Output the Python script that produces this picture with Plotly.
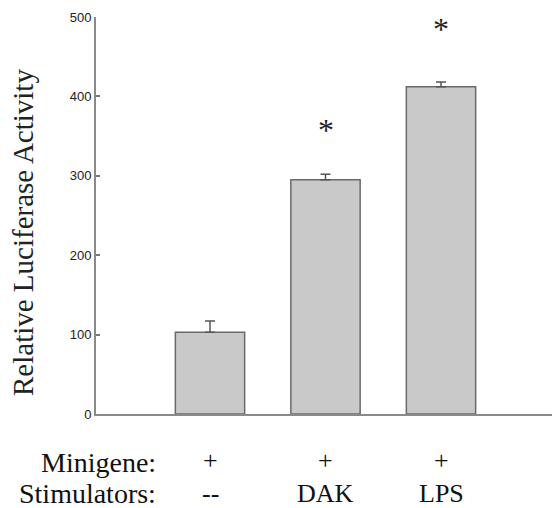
import plotly.graph_objects as go

# Data
positions = [0, 1, 2]
values = [103, 295, 412]
errors = [14, 7, 6]
minigene = ["+", "+", "+"]
stimulators = ["--", "DAK", "LPS"]
sig_marks = ["", "*", "*"]
sig_y = [None, 365, 492]
y_ticks = [0, 100, 200, 300, 400, 500]

SERIF = "Liberation Serif, Times New Roman, serif"

fig = go.Figure()
fig.add_trace(go.Bar(
    x=positions, y=values, width=0.6,
    marker=dict(color="#c9c9c9", line=dict(color="#6a6a6a", width=1.5)),
    error_y=dict(type="data", array=errors, arrayminus=[0] * len(errors),
                 symmetric=False, color="#555555", thickness=1.5, width=5),
    showlegend=False,
    hoverinfo="skip",
))

annotations = []
for xi, s, sy in zip(positions, sig_marks, sig_y):
    if s and sy is not None:
        annotations.append(dict(x=xi, y=sy, xref="x", yref="y", text=s, showarrow=False,
                                font=dict(family=SERIF, size=32, color="#222"),
                                yanchor="middle", yshift=-6))
for xi, m, st in zip(positions, minigene, stimulators):
    annotations.append(dict(x=xi, y=-0.116, xref="x", yref="paper", text=m, showarrow=False,
                            font=dict(family=SERIF, size=26, color="#111"), yanchor="middle"))
    annotations.append(dict(x=xi, y=-0.2015, xref="x", yref="paper", text=st, showarrow=False,
                            font=dict(family=SERIF, size=26, color="#111"), yanchor="middle"))
annotations.append(dict(x=0.136, y=-0.121, xref="paper", yref="paper", text="Minigene:",
                        showarrow=False, xanchor="right", yanchor="middle",
                        font=dict(family=SERIF, size=28, color="#111")))
annotations.append(dict(x=0.136, y=-0.2015, xref="paper", yref="paper", text="Stimulators:",
                        showarrow=False, xanchor="right", yanchor="middle",
                        font=dict(family=SERIF, size=28, color="#111")))
annotations.append(dict(x=-0.16, y=0.456, xref="paper", yref="paper",
                        text="Relative Luciferase Activity", textangle=-90, showarrow=False,
                        xanchor="center", yanchor="middle",
                        font=dict(family=SERIF, size=29, color="#222")))

fig.update_layout(
    width=552, height=508,
    margin=dict(l=96, r=0, t=17, b=94),
    paper_bgcolor="white", plot_bgcolor="white",
    annotations=annotations,
    xaxis=dict(range=[-0.987, 2.961], showticklabels=False, ticks="", showgrid=False,
               zeroline=False, showline=True, linecolor="#8a8a8a", linewidth=2),
    yaxis=dict(range=[0, 500], tickvals=y_ticks, ticks="inside", ticklen=4,
               tickcolor="#777", tickwidth=1.5, showgrid=False, zeroline=False,
               showline=True, linecolor="#8a8a8a", linewidth=2,
               tickfont=dict(family="Liberation Sans, Arial", size=13, color="#222")),
)

fig.write_html("out.html", config={"displayModeBar": False},
               post_script="document.body.style.margin='0';document.body.style.overflow='hidden';")
